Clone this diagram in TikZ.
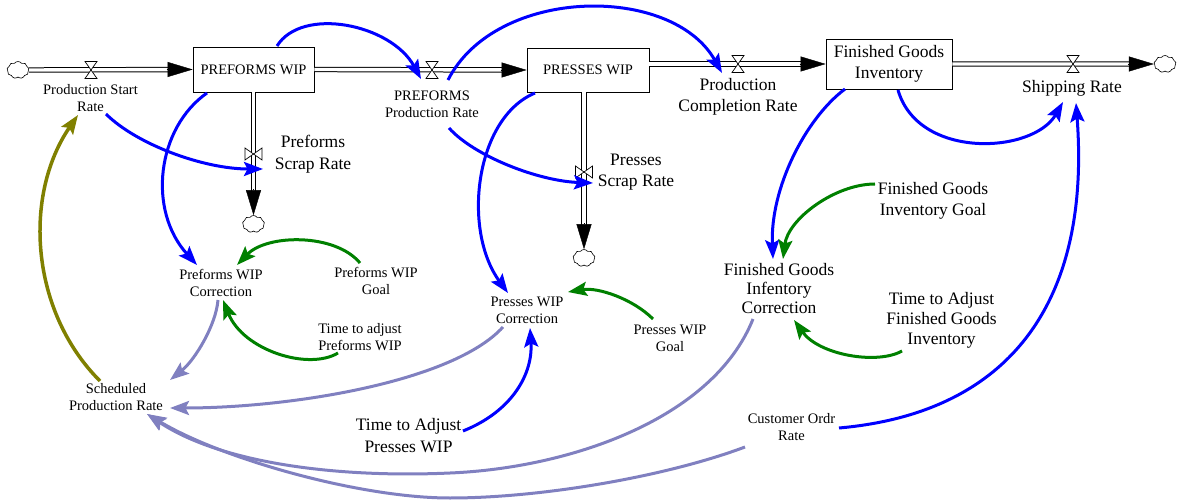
\documentclass[tikz,border=0pt]{standalone}
\usepackage{fontspec}
\setmainfont{Liberation Serif}
\usetikzlibrary{arrows.meta,shapes.symbols}

\definecolor{linkblue}{RGB}{0,0,255}
\definecolor{linkgreen}{RGB}{0,128,0}
\definecolor{linkolive}{RGB}{128,128,0}
\definecolor{linklav}{RGB}{128,128,192}

\begin{document}
\begin{tikzpicture}[x=1pt,y=-1pt,
  small/.style={font=\fontsize{14.5}{17}\selectfont},
  big/.style={font=\fontsize{17.5}{21.5}\selectfont},
  aux/.style={align=center, inner sep=0pt},
  stock/.style={draw, line width=0.8pt, fill=white, align=center, inner sep=0pt},
  sink/.style={cloud, draw, cloud puffs=9, cloud puff arc=110, aspect=1.3,
    line width=0.6pt, inner sep=0pt, minimum width=22pt, minimum height=17pt},
  pipe/.style={draw=black, double=white, double distance=3.4pt, line width=1pt},
  flowtip/.style={line width=0.4pt, -{Triangle[length=25pt,width=15pt]}},
  link/.style={line width=3pt, -{Stealth[length=19pt,width=14pt,inset=3.5pt]}},
  hvalve/.pic={\draw[fill=white, line width=0.7pt]
    (-6,-8.5) -- (6,-8.5) -- (-6,8.5) -- (6,8.5) -- cycle;},
  vvalve/.pic={\draw[fill=white, line width=0.7pt]
    (-8.5,-6) -- (-8.5,6) -- (8.5,-6) -- (8.5,6) -- cycle;},
]
\useasboundingbox (0,0) rectangle (1177,502);

% stocks
\node[stock, small, minimum width=121pt, minimum height=45pt] (pw) at (253.5,69.5) {PREFORMS WIP};
\node[stock, small, minimum width=122pt, minimum height=44pt] (prw) at (588,70) {PRESSES WIP};
\node[stock, big, minimum width=126pt, minimum height=50pt] (fgi) at (889,64) {Finished Goods\\Inventory};

% sources and sinks
\node[sink] (c1) at (18,70) {};
\node[sink] (c4) at (1165,64) {};
\node[sink] (c5) at (253.5,224) {};
\node[sink] (c6) at (584,258) {};

% flows
\draw[pipe, shorten >=24pt] (c1.east) -- (pw.west);
\draw[flowtip] ([xshift=-26pt]pw.west) -- (pw.west);
\pic at (91,70) {hvalve};

\draw[pipe, shorten >=24pt] (pw.east) -- (prw.west);
\draw[flowtip] ([xshift=-26pt]prw.west) -- (prw.west);
\pic at (432,70) {hvalve};

\draw[pipe, shorten >=24pt] (prw.east |- fgi.west) -- (fgi.west);
\draw[flowtip] ([xshift=-26pt]fgi.west) -- (fgi.west);
\pic at (738,64) {hvalve};

\draw[pipe, shorten >=24pt] (fgi.east) -- (c4.west);
\draw[flowtip] ([xshift=-26pt]c4.west) -- (c4.west);
\pic at (1073,64) {hvalve};

\draw[pipe, shorten >=24pt] (pw.south) -- (c5.north);
\draw[flowtip] ([yshift=26pt]c5.north) -- (c5.north);
\pic at (253.5,154) {vvalve};

\draw[pipe, shorten >=24pt] (prw.south -| c6.north) -- (c6.north);
\draw[flowtip] ([yshift=26pt]c6.north) -- (c6.north);
\pic at (584,172) {vvalve};

% rates and auxiliaries
\node[aux, small] (pstart) at (90.5,98.5) {Production Start\\Rate};
\node[aux, small] (ppr) at (432,104.5) {PREFORMS\\Production Rate};
\node[aux, big] (pcr) at (738,97) {Production\\Completion Rate};
\node[aux, big] (ship) at (1072,88) {Shipping Rate};
\node[aux, big] (pscrap) at (313,154) {Preforms\\Scrap Rate};
\node[aux, big] (prscrap) at (636,172) {Presses\\Scrap Rate};
\node[aux, small] (pwc) at (221,282.5) {Preforms WIP\\Correction};
\node[aux, small] (pwg) at (376,280.5) {Preforms WIP\\Goal};
\node[aux, small] (tpw) at (360,337.5) {Time to adjust\\Preforms WIP};
\node[aux, small] (spr) at (116,397.5) {Scheduled\\Production Rate};
\node[aux, small] (prwc) at (527,310.5) {Presses WIP\\Correction};
\node[aux, small] (prwg) at (670,338.5) {Presses WIP\\Goal};
\node[aux, big] (tprw) at (408.5,435.5) {Time to Adjust\\Presses WIP};
\node[aux, font=\fontsize{17.5}{19}\selectfont] (fgic) at (779,289) {Finished Goods\\Infentory\\Correction};
\node[aux, big] (fgig) at (933,201) {Finished Goods\\Inventory Goal};
\node[aux, font=\fontsize{17.5}{20}\selectfont] (tfg) at (941.5,320) {Time to Adjust\\Finished Goods\\Inventory};
\node[aux, small] (cor) at (791.5,427.5) {Customer Ordr\\Rate};

% information links
\draw[link, linkblue] ([shift={(23.5,-23.5)}]pw.center) .. controls +(25,-40) and +(-30,-55) .. ([shift={(-11,-25.5)}]ppr.center);
\draw[link, linkblue] ([shift={(16,-24.5)}]ppr.center) .. controls +(48,-94) and +(-50,-89) .. ([shift={(-16,-24)}]pcr.center);
\draw[link, linkblue] ([shift={(15.5,15.5)}]pstart.center) .. controls +(30,30) and +(-60,0) .. ([shift={(-50,15)}]pscrap.center);
\draw[link, linkblue] ([shift={(-46.5,23.5)}]pw.center) .. controls +(-50,35) and +(-50,-55) .. ([shift={(-24,-17.5)}]pwc.center);
\draw[link, linkblue] ([shift={(17,23.5)}]ppr.center) .. controls +(25,28) and +(-55,-2) .. ([shift={(-43,11)}]prscrap.center);
\draw[link, linkblue] ([shift={(-53,23)}]prw.center) .. controls +(-60,25) and +(-46,-63) .. ([shift={(-19,-17.5)}]prwc.center);
\draw[link, linkblue] ([shift={(54.5,-4.5)}]tprw.center) .. controls +(50,-20) and +(3,45) .. ([shift={(3,17.5)}]prwc.center);
\draw[link, linkblue] ([shift={(-44,25)}]fgi.center) .. controls +(-40,30) and +(-3,-70) .. ([shift={(-6,-30)}]fgic.center);
\draw[link, linkblue] ([shift={(9,26)}]fgi.center) .. controls +(20,70) and +(-30,52) .. ([shift={(-9,14)}]ship.center);
\draw[link, linkblue] ([shift={(47.5,0.5)}]cor.center) .. controls +(170,-15) and +(15,200) .. ([shift={(4,15)}]ship.center);

\draw[link, linkgreen] ([shift={(-16,-17.5)}]pwg.center) .. controls +(-25,-30) and +(30,-31) .. ([shift={(16,-17.5)}]pwc.center);
\draw[link, linkgreen] ([shift={(-22,15.5)}]tpw.center) .. controls +(-30,18) and +(20,50) .. ([shift={(2,17.5)}]pwc.center);
\draw[link, linkgreen] ([shift={(-17,-19.5)}]prwg.center) .. controls +(-20,-20) and +(30,-5) .. ([shift={(41,-18.5)}]prwc.center);
\draw[link, linkgreen] ([shift={(-58,-17)}]fgig.center) .. controls +(-40,0) and +(5,-40) .. ([shift={(4,-30)}]fgic.center);
\draw[link, linkgreen] ([shift={(-39.5,31)}]tfg.center) .. controls +(-25,14) and +(25,35) .. ([shift={(15,31)}]fgic.center);

\draw[link, linkolive, line width=3.5pt] ([shift={(-16,-16.5)}]spr.center) .. controls +(-70,-70) and +(-55,80) .. ([shift={(-12.5,16.5)}]pstart.center);

\draw[link, linklav] ([shift={(-3,17.5)}]pwc.center) .. controls +(-2,25) and +(25,-20) .. ([shift={(54,-17.5)}]spr.center);
\draw[link, linklav] ([shift={(-24,16.5)}]prwc.center) .. controls +(-50,55) and +(120,0) .. ([shift={(54,10.5)}]spr.center);
\draw[link, linklav] ([shift={(-26,30)}]fgic.center) .. controls +(-40,100) and +(120,-5) .. (450,473)
  .. controls +(-110,5) and +(75,50) .. ([shift={(31,16.5)}]spr.center);
\draw[link, linklav] ([shift={(-46.5,19.5)}]cor.center) .. controls +(-80,30) and +(90,0) .. (450,498)
  .. controls +(-90,0) and +(75,45) .. ([shift={(31,16.5)}]spr.center);
\end{tikzpicture}
\end{document}
